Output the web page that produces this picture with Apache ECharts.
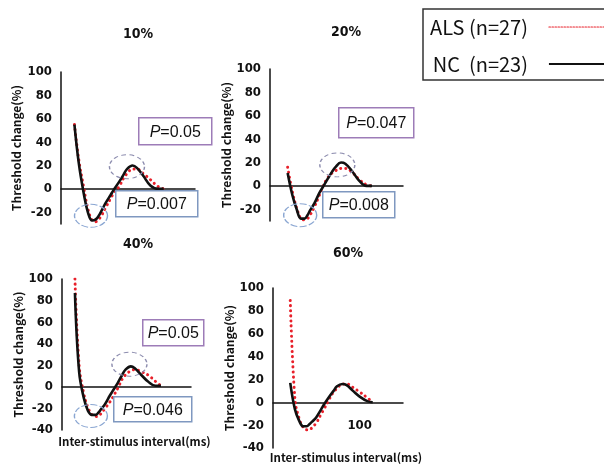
<!DOCTYPE html>
<html>
<head>
<meta charset="utf-8">
<script src="https://cdn.jsdelivr.net/npm/echarts@6/dist/echarts.min.js"></script>
<style>
html,body{margin:0;padding:0;background:#fff;}
#chart{width:604px;height:465px;}
</style>
</head>
<body>
<div id="chart"></div>
<script>
// Inter-stimulus intervals (ms), shared by all panels
const isi = [2, 2.5, 3.2, 4, 5, 6, 7, 8, 10, 13, 15, 20, 25, 30, 40, 50, 70, 100, 150, 200];
const panelTitles = ['10%', '20%', '40%', '60%'];
const seriesNames = ['ALS (n=27)', 'NC  (n=23)'];

// Threshold change (%) per panel
const als10 = [55, 25, 2, -17, -27, -28, -26, -23, -16, -8, -4, 2, 9, 13, 17, 17, 13, 8, 2, 0];
const nc10  = [55, 22, -3, -20, -27, -26, -23, -19, -12, -5, -1, 6, 12, 17, 20, 18, 11, 3, 0, 0];
const als20 = [null, 16, -5, -19, -28, -29, -28, -25, -18, -8, -2, 7, 11, 13, 15, 15, 12, 6, 1, 0];
const nc20  = [null, 11, -8, -20, -28, -28, -25, -21, -15, -6, -2, 6, 12, 16, 20, 19, 13, 5, 0, 0];
const als40 = [100, 20, -6, -19, -26, -27.5, -27, -25, -20, -14, -10, -1, 7, 11, 15, 16, 14, 11, 5, 1];
const nc40  = [87, 14, -10, -22, -26, -26, -24, -21, -16, -8, -4, 4, 11, 16, 19, 17, 11, 5, 1, 1];
const als60 = [null, 89, 3, -14, -22, -24, -24, -22, -18, -10, -6, 3, 9, 12, 16, 16, 13, 9, 4, 0];
const nc60  = [null, 17, -6, -16, -21, -21, -19, -17, -13, -6, -2, 5, 10, 14, 16, 15, 10, 5, 1, 0];

const alsData = [als10, als20, als40, als60];
const ncData  = [nc10, nc20, nc40, nc60];

// y-axis ranges per panel
const yMin = [-30, -30, -40, -40];
const yMax = [100, 100, 100, 100];
const xTickLabels = ['100'];

// P-values (subexcitability peak, superexcitability trough)
const pPeak = ['P=0.05', 'P=0.047', 'P=0.05'];
const pTrough = ['P=0.007', 'P=0.008', 'P=0.046'];

// Highlight ellipse centres [isi, value]: peak, trough
const ellipsePeak = [[30, 19], [33, 18], [37, 21]];
const ellipseTrough = [[4.7, -23], [4.8, -25], [4.7, -27]];

const FONT_N = "'Liberation Sans Narrow','DejaVu Sans Condensed','Noto Sans CJK JP',sans-serif";
const FONT_J = "'Noto Sans CJK JP','Noto Sans',sans-serif";

const grids = [
  {left: 61, top: 72, width: 134, height: 152},
  {left: 270, top: 69, width: 133, height: 152},
  {left: 62, top: 279, width: 129, height: 151},
  {left: 273, top: 288, width: 130, height: 160}
].map(g => Object.assign(g, {containLabel: false, outerBoundsMode: 'none'}));
const yNameGap = [39, 38, 36, 36];
const titlePos = [[133, 22], [341, 20], [133, 232], [343, 241]];

const pair = arr => isi.map((x, i) => [x, arr[i]]).filter(d => d[1] !== null);

const xAxes = grids.map((g, i) => ({
  type: 'log', logBase: 10, min: 1, max: 1000, gridIndex: i,
  position: 'bottom',
  // put the x axis on the y=0 level of its panel
  offset: -g.height * (0 - yMin[i]) / (yMax[i] - yMin[i]),
  axisLine: {onZero: false, lineStyle: {color: '#111', width: 1.5}},
  axisTick: {show: false},
  splitLine: {show: false},
  axisLabel: {
    margin: 17, color: '#111', fontFamily: FONT_N, fontWeight: 'bold', fontSize: 13,
    formatter: v => (xTickLabels.indexOf(String(Math.round(v))) >= 0 ? String(Math.round(v)) : '')
  },
  name: i >= 2 ? 'Inter-stimulus interval(ms)' : '',
  nameLocation: 'middle',
  nameGap: i === 2 ? 49 : 50,
  nameTextStyle: {color: '#111', fontFamily: FONT_J, fontWeight: 'bold', fontSize: 11.5, padding: [0, 0, 0, 16]}
}));

const yAxes = grids.map((g, i) => ({
  type: 'value', gridIndex: i, min: yMin[i], max: yMax[i], interval: yMin[i] === -30 ? 10 : 20,
  axisLine: {show: true, onZero: false, lineStyle: {color: '#111', width: 1.5}},
  axisTick: {show: false},
  splitLine: {show: false},
  axisLabel: {
    margin: 9, color: '#111', fontFamily: FONT_N, fontWeight: 'bold', fontSize: 13,
    formatter: v => (v % 20 === 0 ? String(v) : '')
  },
  name: 'Threshold change(%)',
  nameLocation: 'middle',
  nameGap: yNameGap[i],
  nameTextStyle: {color: '#111', fontFamily: FONT_J, fontWeight: 'bold', fontSize: 12}
}));

const series = [];
grids.forEach((g, i) => {
  const alsS = {
    name: seriesNames[0], type: 'line', xAxisIndex: i, yAxisIndex: i,
    data: pair(alsData[i]), smooth: 0.4, showSymbol: false, symbol: 'none', z: 3,
    itemStyle: {color: '#e8202a'},
    lineStyle: {color: '#e8202a', width: 3, type: [0.1, 5], cap: 'round'}
  };
  const ncS = {
    name: seriesNames[1], type: 'line', xAxisIndex: i, yAxisIndex: i,
    data: pair(ncData[i]), smooth: 0.4, showSymbol: false, symbol: 'none', z: 4,
    itemStyle: {color: '#111'},
    lineStyle: {color: '#111', width: 2.6}
  };
  if (i < 3) {
    ncS.markPoint = {
      silent: true, animation: false,
      label: {show: false},
      data: [
        {coord: ellipsePeak[i], symbol: 'circle', symbolSize: [35, 24],
         itemStyle: {color: 'rgba(0,0,0,0)', borderColor: '#8c8cae', borderWidth: 1.2, borderType: [4, 3]}},
        {coord: ellipseTrough[i], symbol: 'circle', symbolSize: [33, 23],
         itemStyle: {color: 'rgba(0,0,0,0)', borderColor: '#8aa6d2', borderWidth: 1.2, borderType: [6, 2]}}
      ]
    };
  }
  series.push(alsS, ncS);
});

function pBox(x, y, w, h, text, border) {
  return {
    type: 'group', left: x, top: y, z: 100, zlevel: 1,
    children: [
      {type: 'rect', z: 100, zlevel: 1, shape: {x: 0, y: 0, width: w, height: h},
       style: {fill: '#fff', stroke: border, lineWidth: 1.5}},
      {type: 'text', z: 101, zlevel: 1, x: w / 2, y: h / 2 + 1,
       style: {text: '{i|P}=' + text.split('=')[1], align: 'center', verticalAlign: 'middle',
               font: "16px 'Liberation Sans',Arial,sans-serif", fill: '#111',
               rich: {i: {fontStyle: 'italic', fontSize: 16, fontFamily: "'Liberation Sans',Arial,sans-serif"}}}}
    ]
  };
}
const peakBoxes = [[138, 117, 73, 27], [338, 107, 75, 30], [142, 319, 61, 26]];
const troughBoxes = [[115, 190, 82, 26], [322, 191, 72, 26], [113, 396, 78, 25]];
const graphics = [];
peakBoxes.forEach((b, i) => graphics.push(pBox(b[0], b[1], b[2], b[3], pPeak[i], '#9d7cb8')));
troughBoxes.forEach((b, i) => graphics.push(pBox(b[0], b[1], b[2], b[3], pTrough[i], '#7f98c0')));

const option = {
  backgroundColor: '#fff',
  animation: false,
  title: panelTitles.map((t, i) => ({
    text: t, left: titlePos[i][0], top: titlePos[i][1], textAlign: 'center',
    textStyle: {fontFamily: FONT_N, fontWeight: 'bold', fontSize: 14, color: '#111'}
  })),
  legend: {
    orient: 'vertical', left: 423, top: 9, align: 'right',
    padding: [8, 10, 6, 7], itemGap: 17, itemWidth: 70, itemHeight: 20,
    borderColor: '#333', borderWidth: 1.5,
    formatter: n => '{a|' + n + '}',
    textStyle: {fontFamily: FONT_J, fontSize: 20, color: '#111',
                rich: {a: {padding: [0, 16, 0, 0], fontFamily: FONT_J, fontSize: 20, color: '#111'}}},
    data: [
      {name: seriesNames[0], itemStyle: {color: 'rgba(0,0,0,0)', borderWidth: 0},
       lineStyle: {color: '#e8202a', width: 1.2, type: [1.5, 1.5]}},
      {name: seriesNames[1], itemStyle: {color: 'rgba(0,0,0,0)', borderWidth: 0},
       lineStyle: {color: '#111', width: 2, type: 'solid'}}
    ]
  },
  grid: grids,
  xAxis: xAxes,
  yAxis: yAxes,
  series: series,
  graphic: graphics
};

const chart = echarts.init(document.getElementById('chart'), null, {renderer: 'canvas'});
chart.setOption(option);
</script>
</body>
</html>
